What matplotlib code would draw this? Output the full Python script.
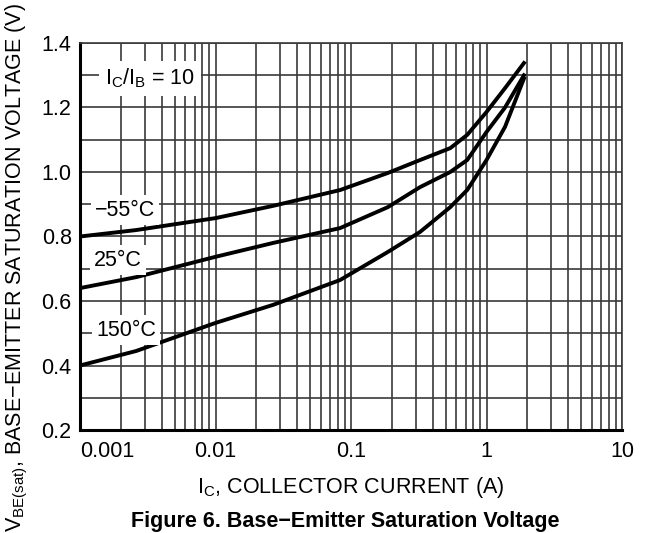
import matplotlib
matplotlib.use("Agg")
from matplotlib import pyplot as plt
from matplotlib.ticker import FixedLocator, NullFormatter

plt.rcParams["font.family"] = ["Liberation Sans", "DejaVu Sans"]
plt.rcParams["mathtext.fontset"] = "custom"
plt.rcParams["mathtext.rm"] = "Liberation Sans"
plt.rcParams["mathtext.it"] = "Liberation Sans"

# Collector current (A) and V_BE(sat) (V) for each junction temperature
ic_cold = [0.001, 0.0026, 0.01, 0.0266, 0.083, 0.187, 0.323, 0.54, 0.72, 1.0, 1.37, 1.89]
vbe_cold = [0.80, 0.820, 0.857, 0.895, 0.944, 0.997, 1.037, 1.074, 1.115, 1.186, 1.26, 1.338]

ic_room = [0.001, 0.0026, 0.01, 0.0266, 0.083, 0.187, 0.323, 0.54, 0.72, 1.0, 1.37, 1.89]
vbe_room = [0.64, 0.674, 0.737, 0.780, 0.826, 0.891, 0.953, 1.0, 1.037, 1.124, 1.20, 1.30]

ic_hot = [0.001, 0.0026, 0.01, 0.0266, 0.083, 0.187, 0.323, 0.54, 0.72, 1.0, 1.37, 1.89]
vbe_hot = [0.40, 0.445, 0.532, 0.588, 0.665, 0.752, 0.814, 0.891, 0.944, 1.037, 1.14, 1.29]

temp_labels = ["\u221255\u00b0C", "25\u00b0C", "150\u00b0C"]
x_ticks = [0.001, 0.01, 0.1, 1, 10]
x_tick_labels = ["0.001", "0.01", "0.1", "1", "10"]
y_ticks = [0.2, 0.4, 0.6, 0.8, 1.0, 1.2, 1.4]

FS = 15.5
MINUS = "\u2212"

fig = plt.figure(figsize=(6.52, 5.33), dpi=100)
ax = fig.add_axes([80 / 652, 1 - 430 / 533, 542 / 652, 387 / 533])

ax.set_xscale("log")
ax.set_xlim(0.001, 10)
ax.set_ylim(0.2, 1.4)

# log grid: every 1..9 per decade, and every 0.1 V
minor_x = [m * 10.0 ** d for d in range(-3, 1) for m in range(2, 10)]
ax.xaxis.set_minor_locator(FixedLocator(minor_x))
ax.xaxis.set_minor_formatter(NullFormatter())
ax.set_xticks(x_ticks)
ax.set_xticklabels(x_tick_labels)
ax.set_yticks(y_ticks)
ax.set_yticklabels([f"{v:.1f}" for v in y_ticks])
ax.set_yticks([0.3 + 0.2 * i for i in range(6)], minor=True)

grid_kw = dict(color="#3a3a3a", linewidth=1.2)
ax.grid(True, which="both", axis="x", **grid_kw)
ax.grid(True, which="both", axis="y", **grid_kw)
ax.set_axisbelow(True)

ax.tick_params(which="both", length=0, labelsize=FS, colors="black")
ax.tick_params(axis="x", pad=8)
ax.tick_params(axis="y", pad=6)
ax.get_xticklabels()[0].set_horizontalalignment("left")

for side in "left", "bottom":
    ax.spines[side].set_linewidth(2.2)
    ax.spines[side].set_color("black")
for side in "top", "right":
    ax.spines[side].set_linewidth(1.2)
    ax.spines[side].set_color("#3a3a3a")

for ic, vbe in [(ic_cold, vbe_cold), (ic_room, vbe_room), (ic_hot, vbe_hot)]:
    ax.plot(ic, vbe, color="black", linewidth=2.8, solid_joinstyle="round", zorder=3)

box = dict(facecolor="white", edgecolor="none", pad=3)
label_pos = [(0.00215, 0.882), (0.0019, 0.727), (0.00219, 0.51)]
for text, (x, y) in zip(temp_labels, label_pos):
    ax.text(x, y, text, fontsize=FS, ha="center", va="center", bbox=box, zorder=4)

ax.text(0.00329, 1.291, r"I$_\mathregular{C}$/I$_\mathregular{B}$ = 10",
        fontsize=FS, ha="center", va="center",
        bbox=dict(facecolor="white", edgecolor="none", pad=4), zorder=4)

fig.text(351 / 652, 1 - 487 / 533, r"I$_\mathregular{C}$, COLLECTOR CURRENT (A)",
         fontsize=FS, ha="center", va="center")
fig.text(17 / 652, 1 - 268 / 533,
         r"V$_\mathregular{BE(sat)}$, BASE" + MINUS + "EMITTER SATURATION VOLTAGE (V)",
         fontsize=FS, ha="center", va="center", rotation=90)
fig.text(345 / 652, 1 - 522 / 533, "Figure 6. Base" + MINUS + "Emitter Saturation Voltage",
         fontsize=FS, fontweight="bold", ha="center", va="center")

fig.savefig("out.png", dpi=100)
